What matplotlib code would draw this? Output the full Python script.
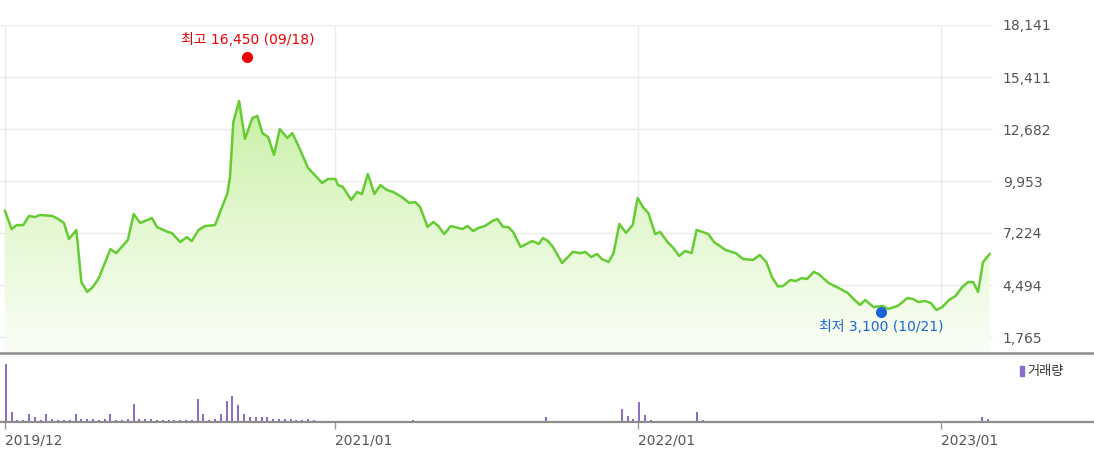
import numpy as np
import pandas as pd
import matplotlib
matplotlib.use("Agg")
import matplotlib.pyplot as plt
import matplotlib.dates as mdates
from matplotlib.colors import LinearSegmentedColormap
from matplotlib.lines import Line2D

# --- DATA ---
price_dates = [
    "2019-12-01", "2019-12-09", "2019-12-15", "2019-12-23", "2019-12-30", "2020-01-06", "2020-01-12", "2020-01-27",
    "2020-02-03", "2020-02-10", "2020-02-16", "2020-02-25", "2020-03-02", "2020-03-09", "2020-03-16", "2020-03-23",
    "2020-04-06", "2020-04-13", "2020-04-27", "2020-05-04", "2020-05-12", "2020-05-26", "2020-06-01", "2020-06-14",
    "2020-06-19", "2020-06-29", "2020-07-07", "2020-07-13", "2020-07-21", "2020-07-29", "2020-08-10", "2020-08-25",
    "2020-08-28", "2020-09-01", "2020-09-08", "2020-09-15", "2020-09-24", "2020-09-30", "2020-10-06", "2020-10-13",
    "2020-10-20", "2020-10-27", "2020-11-05", "2020-11-11", "2020-11-18", "2020-11-30", "2020-12-17", "2020-12-24",
    "2021-01-02", "2021-01-05", "2021-01-11", "2021-01-21", "2021-01-28", "2021-02-03", "2021-02-10", "2021-02-18",
    "2021-02-25", "2021-03-05", "2021-03-13", "2021-03-23", "2021-04-01", "2021-04-08", "2021-04-14", "2021-04-23",
    "2021-04-30", "2021-05-06", "2021-05-13", "2021-05-21", "2021-06-04", "2021-06-10", "2021-06-17", "2021-06-23",
    "2021-07-01", "2021-07-10", "2021-07-16", "2021-07-23", "2021-07-29", "2021-08-04", "2021-08-13", "2021-08-27",
    "2021-09-04", "2021-09-09", "2021-09-15", "2021-09-21", "2021-10-02", "2021-10-15", "2021-10-24", "2021-10-30",
    "2021-11-06", "2021-11-13", "2021-11-19", "2021-11-27", "2021-12-03", "2021-12-10", "2021-12-18", "2021-12-26",
    "2022-01-01", "2022-01-08", "2022-01-14", "2022-01-22", "2022-01-28", "2022-02-06", "2022-02-13", "2022-02-20",
    "2022-02-27", "2022-03-07", "2022-03-13", "2022-03-20", "2022-03-27", "2022-04-03", "2022-04-17", "2022-04-29",
    "2022-05-08", "2022-05-20", "2022-05-28", "2022-06-05", "2022-06-12", "2022-06-19", "2022-06-25", "2022-07-04",
    "2022-07-10", "2022-07-18", "2022-07-24", "2022-08-01", "2022-08-07", "2022-08-19", "2022-08-31", "2022-09-11",
    "2022-09-18", "2022-09-26", "2022-10-02", "2022-10-12", "2022-10-23", "2022-10-30", "2022-11-10", "2022-11-22",
    "2022-11-29", "2022-12-05", "2022-12-13", "2022-12-20", "2022-12-27", "2023-01-03", "2023-01-11", "2023-01-19",
    "2023-01-27", "2023-02-03", "2023-02-09", "2023-02-15", "2023-02-21", "2023-03-01",
]
price_vals = [
    8380, 7430, 7640, 7640, 8120, 8060, 8170, 8120,
    7960, 7750, 6910, 7380, 4650, 4130, 4390, 4860,
    6380, 6170, 6860, 8220, 7750, 8010, 7540, 7280,
    7220, 6750, 7010, 6800, 7380, 7590, 7640, 9320,
    10160, 13050, 14150, 12160, 13260, 13370, 12470, 12260,
    11320, 12680, 12210, 12470, 11840, 10640, 9850, 10060,
    10060, 9740, 9640, 8960, 9380, 9270, 10320, 9270,
    9740, 9480, 9370, 9110, 8800, 8850, 8590, 7540,
    7800, 7590, 7170, 7590, 7430, 7590, 7330, 7490,
    7590, 7850, 7960, 7540, 7540, 7280, 6490, 6800,
    6650, 6960, 6800, 6490, 5650, 6230, 6170, 6230,
    5960, 6120, 5860, 5700, 6170, 7700, 7230, 7640,
    9060, 8540, 8270, 7170, 7280, 6750, 6440, 6020,
    6280, 6170, 7380, 7280, 7170, 6750, 6330, 6170,
    5860, 5810, 6070, 5700, 4890, 4420, 4440, 4760,
    4700, 4860, 4810, 5180, 5070, 4600, 4340, 4080,
    3760, 3450, 3710, 3340, 3390, 3240, 3390, 3810,
    3760, 3600, 3660, 3550, 3180, 3340, 3710, 3920,
    4390, 4650, 4650, 4130, 5700, 6120,
]

# weekly volume (thousand shares), weeks starting 2019-12-02
vol_start = "2019-12-02"
volume = [
    167, 28, 7, 5, 23, 13, 7, 23, 10, 5,
    5, 5, 23, 10, 10, 10, 5, 10, 23, 7,
    5, 10, 52, 10, 10, 10, 7, 5, 7, 5,
    5, 5, 5, 65, 23, 5, 10, 23, 60, 75,
    48, 23, 13, 15, 15, 15, 10, 10, 10, 10,
    5, 5, 10, 5, 4, 0, 4, 4, 4, 4,
    4, 0, 4, 4, 4, 0, 0, 0, 0, 0,
    5, 0, 4, 4, 0, 0, 0, 0, 0, 0,
    0, 0, 0, 0, 4, 0, 0, 0, 0, 0,
    0, 0, 0, 13, 0, 0, 0, 0, 0, 0,
    0, 0, 0, 0, 0, 0, 38, 17, 10, 57,
    20, 5, 4, 4, 0, 0, 0, 0, 0, 28,
    5, 4, 0, 0, 0, 0, 0, 0, 0, 0,
    0, 0, 0, 4, 0, 0, 0, 0, 0, 0,
    0, 0, 0, 0, 0, 0, 0, 0, 0, 0,
    0, 0, 0, 0, 0, 0, 0, 0, 0, 0,
    0, 0, 0, 0, 0, 4, 4, 0, 13, 10,
]

y_ticks = [1765, 4494, 7224, 9953, 12682, 15411, 18141]
x_ticks = ["2019-12-01", "2021-01-01", "2022-01-01", "2023-01-01"]
x_labels = ["2019/12", "2021/01", "2022/01", "2023/01"]

high_date, high_val, high_label = "2020-09-18", 16450, "최고 16,450 (09/18)"
low_date, low_val, low_label = "2022-10-21", 3100, "최저 3,100 (10/21)"

# --- FIGURE ---
W, H = 1094, 451
fig = plt.figure(figsize=(W / 100, H / 100), dpi=100)
kr = ["DejaVu Sans", "Noto Sans CJK KR"]

def px_box(left, top, right, bottom):
    return [left / W, 1 - bottom / H, (right - left) / W, (bottom - top) / H]

ax = fig.add_axes(px_box(0, 25, 993, 352))
axv = fig.add_axes(px_box(0, 355, 1094, 422))

pd_dates = pd.to_datetime(price_dates)
xnum = mdates.date2num(pd_dates)
x_left = mdates.date2num(pd.Timestamp("2019-11-25"))
x_right = mdates.date2num(pd.Timestamp("2023-03-05"))
y_bot, y_top = 978, 18141

# gradient fill under the line
poly = ax.fill_between(xnum, price_vals, y_bot, color="none", lw=0)
cmap = LinearSegmentedColormap.from_list("g", ["#fafef6", "#e4f8d2", "#c8f0a4"])
grad = np.linspace(0, 1, 256).reshape(-1, 1)
im = ax.imshow(grad, extent=[x_left, x_right, y_bot, 14200], origin="lower",
               aspect="auto", cmap=cmap, zorder=1)
im.set_clip_path(poly.get_paths()[0], transform=ax.transData)

ax.plot(xnum, price_vals, color="#66cc33", lw=1.8, zorder=3)

ax.set_xlim(x_left, x_right)
ax.set_ylim(y_bot, y_top)
ax.set_xticks(mdates.date2num(pd.to_datetime(x_ticks)))
ax.set_xticklabels([])
ax.tick_params(axis="x", length=0)
ax.yaxis.tick_right()
ax.set_yticks(y_ticks)
ax.set_yticklabels([f"{v:,}" for v in y_ticks], color="#555555", fontsize=10)
ax.tick_params(axis="y", length=0, pad=7)
ax.grid(True, color="#ebebeb", lw=1, zorder=0)
ax.set_axisbelow(True)
for s in ax.spines.values():
    s.set_visible(False)

# high / low markers
hx = mdates.date2num(pd.Timestamp(high_date))
lx = mdates.date2num(pd.Timestamp(low_date))
ax.plot(hx, high_val, "o", color="#ee0000", ms=7, zorder=4, clip_on=False)
ax.annotate(high_label, (hx, high_val), xytext=(0, 7), textcoords="offset points",
            ha="center", va="bottom", color="#ee0000", fontsize=10, family=kr)
ax.plot(lx, low_val, "o", color="#1a66d9", ms=7, zorder=4)
ax.annotate(low_label, (lx, low_val), xytext=(0, -6), textcoords="offset points",
            ha="center", va="top", color="#1a66d9", fontsize=10, family=kr)

# volume bars
vol_dates = pd.date_range(vol_start, periods=len(volume), freq="7D")
axv.bar(mdates.date2num(vol_dates), volume, width=2.4, color="#8e6cc9", zorder=2)
axv.set_xlim(x_left, x_left + (x_right - x_left) * W / 993)
axv.set_ylim(0, max(volume) * 67 / 58)
axv.set_yticks([])
axv.set_xticks(mdates.date2num(pd.to_datetime(x_ticks)))
axv.set_xticklabels(x_labels, ha="left", color="#555555", fontsize=10)
axv.tick_params(axis="x", length=5, width=1, color="#999999", pad=3)
for name, s in axv.spines.items():
    s.set_visible(name == "bottom")
axv.spines["bottom"].set_color("#8c8c8c")
axv.spines["bottom"].set_linewidth(1.6)

# separator line between panels
fig.add_artist(Line2D([0, 1], [1 - 352.5 / H, 1 - 352.5 / H], color="#8c8c8c", lw=1.8))

# volume legend
fig.patches.append(plt.Rectangle((1020 / W, 1 - 376 / H), 4 / W, 10 / H,
                                 transform=fig.transFigure, color="#8e6cc9"))
fig.text(1027 / W, 1 - 371 / H, "거래량", color="#333333", fontsize=9.5, va="center",
         family=["Noto Sans CJK KR", "DejaVu Sans"])

fig.savefig("out.png", dpi=100)
